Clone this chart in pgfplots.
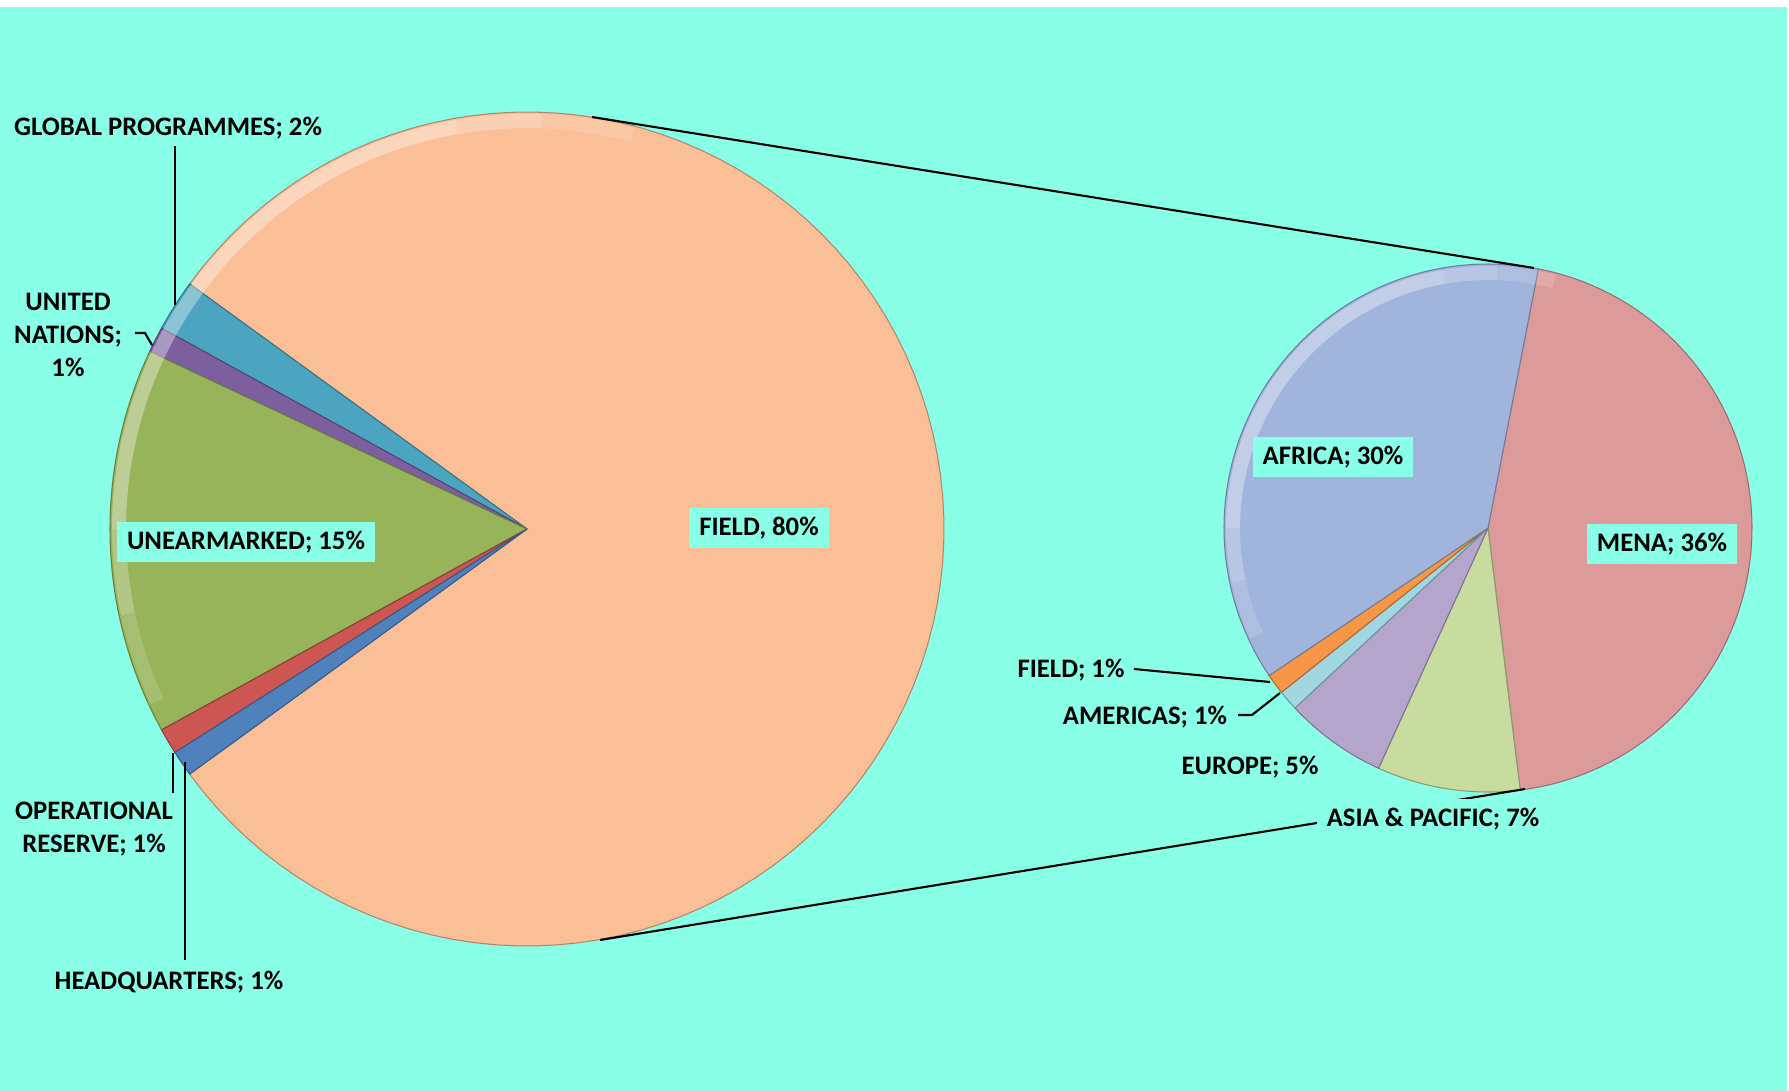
\documentclass[border=0pt]{standalone}
\usepackage{pgfplots}
\pgfplotsset{compat=1.18}
\usepackage{fontspec}
\setmainfont{Carlito}
\definecolor{bg}{RGB}{138,255,232}
\definecolor{cField}{RGB}{251,191,152}
\definecolor{cGP}{RGB}{75,165,192}
\definecolor{cUN}{RGB}{125,95,160}
\definecolor{cUNE}{RGB}{152,180,90}
\definecolor{cOR}{RGB}{205,85,82}
\definecolor{cHQ}{RGB}{79,129,189}
\definecolor{cAfr}{RGB}{160,180,220}
\definecolor{cMena}{RGB}{220,155,154}
\definecolor{cAsia}{RGB}{200,220,160}
\definecolor{cEur}{RGB}{180,165,205}
\definecolor{cAm}{RGB}{160,215,225}
\definecolor{cRF}{RGB}{247,150,70}
% data (percent of total)
\def\vField{80}\def\vGP{2}\def\vUN{1}\def\vUNE{15}\def\vOR{1}\def\vHQ{1}
\def\vMena{36}\def\vAsia{7}\def\vEur{5}\def\vAm{1}\def\vRF{1}\def\vAfr{30}
% left pie angles
\pgfmathsetmacro\aA{180-(100-\vField)*1.8}
\pgfmathsetmacro\aB{\aA+\vGP*3.6}
\pgfmathsetmacro\aC{\aB+\vUN*3.6}
\pgfmathsetmacro\aD{\aC+\vUNE*3.6}
\pgfmathsetmacro\aE{\aD+\vOR*3.6}
\pgfmathsetmacro\aF{\aE+\vHQ*3.6}
\pgfmathsetmacro\aG{\aA-\vField*3.6}
% right pie angles (clockwise from 79 deg)
\pgfmathsetmacro\rsum{\vMena+\vAsia+\vEur+\vAm+\vRF+\vAfr}
\pgfmathsetmacro\bA{79}
\pgfmathsetmacro\bB{\bA-\vMena/\rsum*360}
\pgfmathsetmacro\bC{\bB-\vAsia/\rsum*360}
\pgfmathsetmacro\bD{\bC-\vEur/\rsum*360}
\pgfmathsetmacro\bE{\bD-\vAm/\rsum*360}
\pgfmathsetmacro\bF{\bE-\vRF/\rsum*360}
\pgfmathsetmacro\bG{\bF-\vAfr/\rsum*360}
\newcommand{\pieslice}[6]{%
  \addplot[fill=#6, draw=#6!70!black, line width=0.3pt, domain=#4:#5, samples=100, variable=\t]
    ({#1+#3*cos(\t)},{#2-#3*sin(\t)}) -- (axis cs:#1,#2) -- cycle;
}
\newcommand{\rim}[5]{% cx cy r a1 a2 : soft highlight
  \addplot[draw=white, opacity=0.14, line width=4pt, domain=#4:#5, samples=100, variable=\t]
    ({#1+(#3-9)*cos(\t)},{#2-(#3-9)*sin(\t)});
}
\tikzset{lab/.style={font=\bfseries\fontsize{7.6}{9.4}\selectfont, align=center, text=black},
  box/.style={lab, fill=bg, inner xsep=2.8pt, inner ysep=2.6pt}}
\begin{document}
\begin{tikzpicture}
\begin{axis}[width=17.89cm, height=10.91cm, scale only axis,
  xmin=0, xmax=1789, ymin=0, ymax=1091, y dir=reverse,
  axis lines=none, ticks=none, clip=false]
\addplot[fill=white, draw=none] coordinates {(0,0) (1789,0) (1789,1091) (0,1091)} -- cycle;
\addplot[fill=bg, draw=none] coordinates {(0,7) (1787,7) (1787,1091) (0,1091)} -- cycle;
% left pie
\pieslice{527}{529}{417}{\aG}{\aA}{cField}
\pieslice{527}{529}{417}{\aA}{\aB}{cGP}
\pieslice{527}{529}{417}{\aB}{\aC}{cUN}
\pieslice{527}{529}{417}{\aC}{\aD}{cUNE}
\pieslice{527}{529}{417}{\aD}{\aE}{cOR}
\pieslice{527}{529}{417}{\aE}{\aF}{cHQ}
\rim{527}{529}{417}{75}{205}
\rim{527}{529}{417}{88}{192}
\rim{527}{529}{417}{100}{180}
% right pie
\pieslice{1488}{528}{264}{\bB}{\bA}{cMena}
\pieslice{1488}{528}{264}{\bC}{\bB}{cAsia}
\pieslice{1488}{528}{264}{\bD}{\bC}{cEur}
\pieslice{1488}{528}{264}{\bE}{\bD}{cAm}
\pieslice{1488}{528}{264}{\bF}{\bE}{cRF}
\pieslice{1488}{528}{264}{\bG}{\bF}{cAfr}
\rim{1488}{528}{264}{75}{205}
\rim{1488}{528}{264}{88}{192}
\rim{1488}{528}{264}{100}{180}
% connector lines
\addplot[black, line width=0.6pt] coordinates {(592,117) (1534,268)};
\addplot[black, line width=0.6pt] coordinates {(600,940) (1525,789)};
% leader lines
\addplot[black, line width=0.6pt] coordinates {(175,146) (175,305)};
\addplot[black, line width=0.6pt] coordinates {(135,333) (145,333) (152,345)};
\addplot[black, line width=0.6pt] coordinates {(173,753) (173,793)};
\addplot[black, line width=0.6pt] coordinates {(185,762) (185,960)};
\addplot[black, line width=0.6pt] coordinates {(1134,669) (1270,682)};
\addplot[black, line width=0.6pt] coordinates {(1238,715) (1252,715) (1280,693)};
% labels
\node[lab] at (axis cs:168,128) {GLOBAL PROGRAMMES; 2\%};
\node[lab] at (axis cs:68,335) {UNITED\\NATIONS;\\1\%};
\node[box] at (axis cs:246,542) {UNEARMARKED; 15\%};
\node[box] at (axis cs:759,528) {FIELD, 80\%};
\node[lab] at (axis cs:94,829) {OPERATIONAL\\RESERVE; 1\%};
\node[lab] at (axis cs:169,982) {HEADQUARTERS; 1\%};
\node[box] at (axis cs:1333,457) {AFRICA; 30\%};
\node[box] at (axis cs:1662,544) {MENA; 36\%};
\node[lab] at (axis cs:1071,670) {FIELD; 1\%};
\node[lab] at (axis cs:1145,717) {AMERICAS; 1\%};
\node[lab] at (axis cs:1250,767) {EUROPE; 5\%};
\node[box] at (axis cs:1433,819) {ASIA \& PACIFIC; 7\%};
\end{axis}
\end{tikzpicture}
\end{document}
